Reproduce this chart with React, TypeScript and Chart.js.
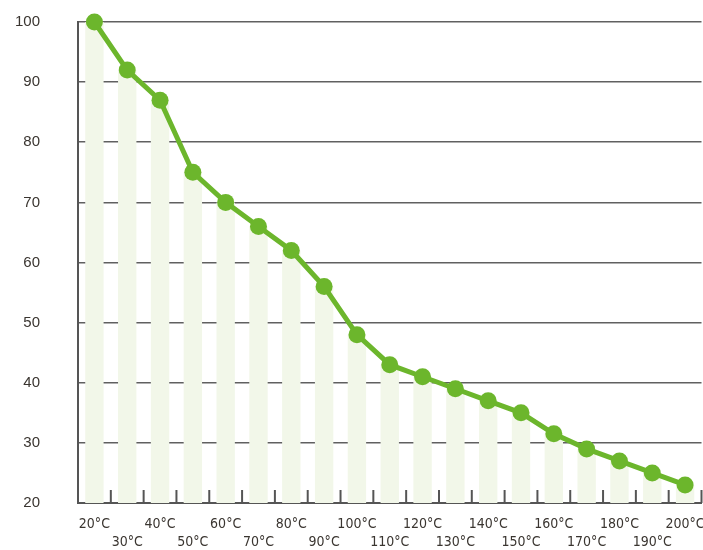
import React, { useEffect, useRef } from "react";
import { Chart, registerables } from "chart.js";

Chart.register(...registerables);

const categories = ["20°C","30°C","40°C","50°C","60°C","70°C","80°C","90°C","100°C","110°C","120°C","130°C","140°C","150°C","160°C","170°C","180°C","190°C","200°C"];
const values = [100, 92, 87, 75, 70, 66, 62, 56, 48, 43, 41, 39, 37, 35, 31.5, 29, 27, 25, 23];
const yMin = 20;
const yMax = 100;
const yStep = 10;

const XFONT = "'DejaVu Sans Condensed', 'Liberation Sans Narrow', sans-serif";
const YFONT = "'Liberation Sans', Arial, sans-serif";
const TARGET_RIGHT = 701;

const innerTicks = {
  id: "innerTicks",
  afterDatasetsDraw(chart: any) {
    const x = chart.scales.x;
    const area = chart.chartArea;
    const ctx = chart.ctx;
    ctx.save();
    ctx.strokeStyle = "#555";
    ctx.lineWidth = 2;
    for (let i = 0; i < categories.length; i++) {
      const c = x.getPixelForValue(i);
      const n = i + 1 < categories.length ? x.getPixelForValue(i + 1) : c + (c - x.getPixelForValue(i - 1));
      const b = (c + n) / 2;
      ctx.beginPath();
      ctx.moveTo(b, area.bottom);
      ctx.lineTo(b, area.bottom - 13);
      ctx.stroke();
    }
    ctx.restore();
  },
};

const zeroPad = (s: any) => {
  s.paddingTop = 0;
  s.paddingBottom = 0;
  s.paddingLeft = 0;
  s.paddingRight = 0;
};

export default function App() {
  const ref = useRef<HTMLCanvasElement>(null);
  const inner = useRef<HTMLDivElement>(null);
  useEffect(() => {
    if (!ref.current || !inner.current) return;
    const chart = new Chart(ref.current, {
      type: "bar",
      data: {
        labels: categories,
        datasets: [
          {
            type: "line",
            data: values,
            borderColor: "#6cb62c",
            backgroundColor: "#6cb62c",
            borderWidth: 5,
            pointRadius: 8.5,
            pointHoverRadius: 8.5,
            pointBackgroundColor: "#6cb62c",
            pointBorderWidth: 0,
            tension: 0,
            clip: false,
            order: 0,
          } as any,
          {
            type: "bar",
            data: values,
            backgroundColor: "#f2f7e9",
            barPercentage: 0.56,
            categoryPercentage: 1,
            order: 1,
          } as any,
        ],
      },
      options: {
        animation: false,
        responsive: false,
        maintainAspectRatio: false,
        layout: { padding: { top: 22, right: 0, left: 0, bottom: 0 } },
        plugins: { legend: { display: false }, tooltip: { enabled: false } },
        scales: {
          x: {
            grid: { display: false, drawTicks: false },
            border: { display: true, color: "#555", width: 2 },
            ticks: {
              padding: 12,
              autoSkip: false,
              maxRotation: 0,
              color: "#3a3530",
              font: { family: XFONT, size: 14, lineHeight: 1.3 },
              callback: (_v: any, i: number) => (i % 2 === 0 ? [categories[i]] : ["", categories[i]]),
            },
            afterFit: (s: any) => { s.height = 47; zeroPad(s); },
          },
          y: {
            min: yMin,
            max: yMax,
            grid: { color: "#606060", lineWidth: 1.6, drawTicks: false },
            border: { display: true, color: "#555", width: 2 },
            ticks: {
              stepSize: yStep,
              padding: 38,
              color: "#3a3530",
              font: { family: YFONT, size: 15 },
            },
            afterFit: (s: any) => { s.width = 78; zeroPad(s); },
          },
        },
      },
      plugins: [innerTicks],
    });
    let w = 703;
    for (let k = 0; k < 3; k++) {
      const delta = TARGET_RIGHT - chart.chartArea.right;
      if (Math.abs(delta) < 0.5) break;
      w = Math.round(w + delta);
      inner.current.style.width = w + "px";
      chart.resize(w, 550);
    }
    return () => chart.destroy();
  }, []);
  return (
    <div style={{ position: "fixed", left: 0, top: 0, width: 703, height: 550, overflow: "hidden", background: "#fff" }}>
      <div ref={inner} style={{ width: 703, height: 550 }}>
        <canvas ref={ref} width={703} height={550} style={{ width: "100%", height: "100%" }} />
      </div>
    </div>
  );
}
